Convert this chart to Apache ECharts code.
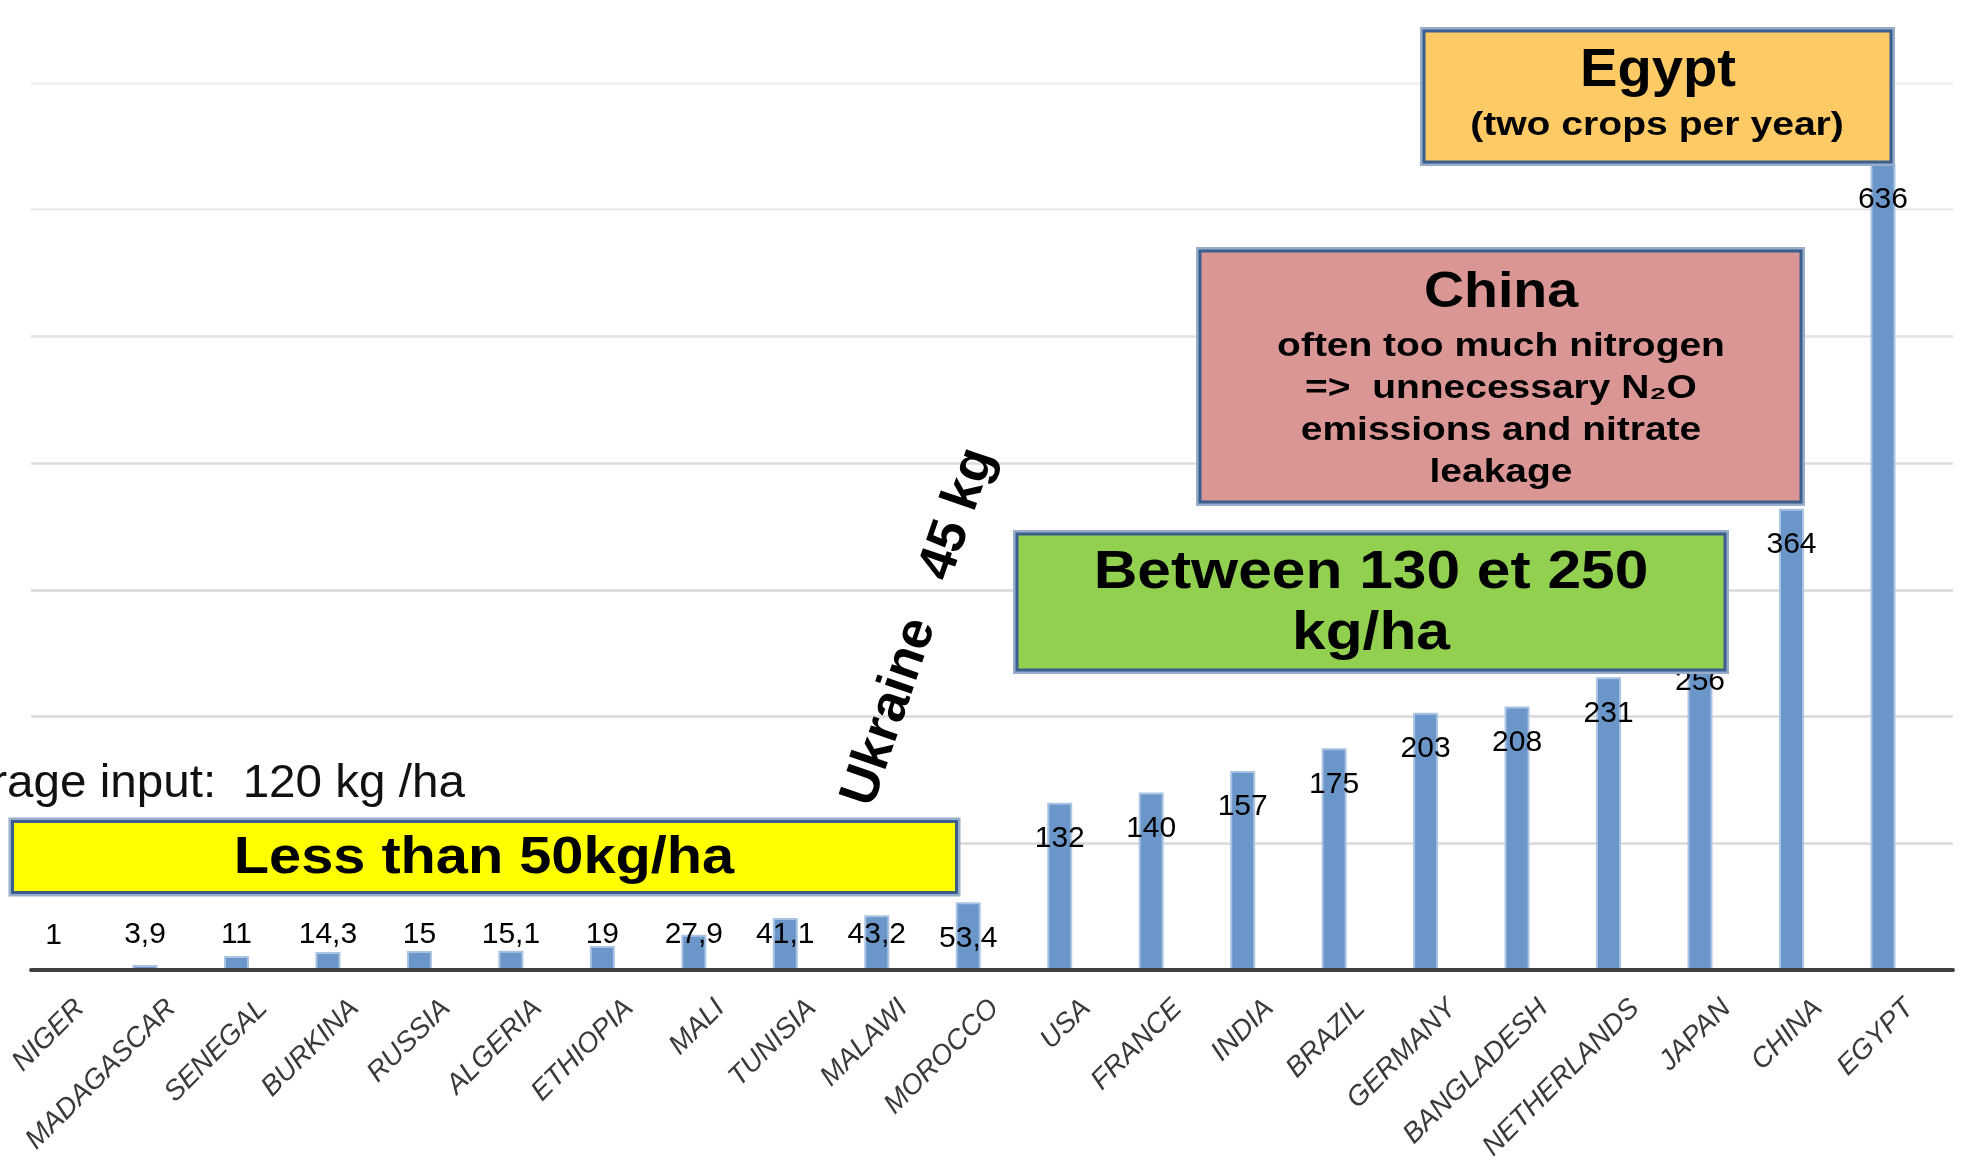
<!DOCTYPE html>
<html>
<head>
<meta charset="utf-8">
<script src="https://cdn.jsdelivr.net/npm/echarts@6/dist/echarts.min.js"></script>
<style>
html,body{margin:0;padding:0;background:#fff;}
#chart{width:1975px;height:1174px;}
</style>
</head>
<body>
<div id="chart"></div>
<script>
// ---- data ----
var categories = ['NIGER','MADAGASCAR','SENEGAL','BURKINA','RUSSIA','ALGERIA','ETHIOPIA','MALI','TUNISIA','MALAWI','MOROCCO','USA','FRANCE','INDIA','BRAZIL','GERMANY','BANGLADESH','NETHERLANDS','JAPAN','CHINA','EGYPT'];
var values = [1, 3.9, 11, 14.3, 15, 15.1, 19, 27.9, 41.1, 43.2, 53.4, 132, 140, 157, 175, 203, 208, 231, 256, 364, 636];
var yTicks = [0, 100, 200, 300, 400, 500, 600, 700];

var averageText = 'Average input:  120 kg /ha';
var lowText = 'Less than 50kg/ha';
var midText = 'Between 130 et 250\nkg/ha';
var chinaTitle = 'China';
var chinaText = 'often too much nitrogen\n=>  unnecessary N\u2082O\nemissions and nitrate\nleakage';
var egyptTitle = 'Egypt';
var egyptText = '(two crops per year)';
var ukraineText = 'Ukraine   45 kg';

// ---- chart ----
var chart = echarts.init(document.getElementById('chart'), null, {renderer: 'canvas'});

var items = values.map(function (v) {
  return {value: v, label: {position: v < 53 ? 'insideBottom' : 'insideTop', distance: v < 53 ? 20 : 21}};
});

var FONT = 'Liberation Sans, Arial, sans-serif';
var BORDER = '#3b5e8d';
var GLOW = '#97adca';
function box(x1, y1, x2, y2, fill) {
  return [
    {type: 'rect', z: 100, shape: {x: x1 - 2.5, y: y1 - 2.5, width: x2 - x1 + 5, height: y2 - y1 + 5},
     style: {fill: 'none', stroke: GLOW, lineWidth: 3}},
    {type: 'rect', z: 101, shape: {x: x1, y: y1, width: x2 - x1, height: y2 - y1},
     style: {fill: fill, stroke: BORDER, lineWidth: 3}}
  ];
}
function txt(text, x, y, size, weight, scaleX, extra) {
  var el = {type: 'text', z: 110, x: x, y: y, scaleX: scaleX || 1,
    style: {text: text, fontSize: size, fontWeight: weight, fontFamily: FONT,
      fill: '#000', align: 'center', verticalAlign: 'middle'}};
  if (extra) { for (var k in extra) { el.style[k] = extra[k]; } }
  return el;
}

var graphics = [];
graphics = graphics.concat(box(12.5, 821.5, 956.5, 892.5, '#ffff00'));
graphics = graphics.concat(box(1017, 534, 1725, 670, '#92d050'));
graphics = graphics.concat(box(1200, 251, 1801, 502, '#da9694'));
graphics = graphics.concat(box(1424, 31, 1891, 162, '#fdca66'));
graphics.push({type: 'text', z: 110, x: 465, y: 784, scaleX: 1.035,
  style: {text: averageText, fontSize: 46, fontFamily: FONT, fill: '#111', align: 'right', verticalAlign: 'middle'}});
graphics.push(txt(lowText, 484, 859, 52, 'bold', 1.11));
graphics.push(txt(midText, 1371, 603.5, 54, 'bold', 1.12, {lineHeight: 61}));
graphics.push(txt(chinaTitle, 1501, 293, 50, 'bold', 1.11));
graphics.push(txt(chinaText, 1501, 410, 33, 'bold', 1.18, {lineHeight: 42}));
graphics.push(txt(egyptTitle, 1658, 71, 53, 'bold', 1.06));
graphics.push(txt(egyptText, 1657, 126, 34, 'bold', 1.15));
graphics.push({type: 'text', z: 110, x: 919, y: 627, rotation: 71 * Math.PI / 180,
  style: {text: ukraineText, fontSize: 53, fontWeight: 'bold', fontFamily: FONT, fill: '#000', align: 'center', verticalAlign: 'middle'}});

var gridBase = {top: 83, bottom: 204, containLabel: false, outerBoundsMode: 'none'};
function g(left, right) { return Object.assign({left: left, right: right}, gridBase); }
var hiddenY = function (gi) {
  return {type: 'value', gridIndex: gi, min: yTicks[0], max: yTicks[yTicks.length - 1], interval: 100,
    axisLabel: {show: false}, axisLine: {show: false}, axisTick: {show: false}, splitLine: {show: false}};
};

var option = {
  animation: false,
  backgroundColor: '#ffffff',
  grid: [g(7.8, 46.3), g(31, 22), g(34.3, 19.8)],
  xAxis: [
    {type: 'category', gridIndex: 0, data: categories,
     axisLine: {show: false}, axisTick: {show: false}, axisLabel: {show: false}},
    {type: 'value', gridIndex: 1, min: 0, max: 1, z: 5,
     axisLine: {show: true, onZero: false, lineStyle: {color: '#404040', width: 4}},
     axisTick: {show: false}, axisLabel: {show: false}, splitLine: {show: false}},
    {type: 'category', gridIndex: 2, data: categories,
     axisLine: {show: false}, axisTick: {show: false},
     axisLabel: {interval: 0, rotate: 45, margin: 34, hideOverlap: false,
       fontFamily: FONT, fontStyle: 'italic', fontSize: 28, color: '#3a3a3a'}}
  ],
  yAxis: [
    hiddenY(0),
    {type: 'value', gridIndex: 1, min: yTicks[0], max: yTicks[yTicks.length - 1], interval: 100,
     axisLabel: {show: false}, axisLine: {show: false}, axisTick: {show: false},
     splitLine: {show: true, lineStyle: {width: 2.5,
       color: ['#d9d9d9', '#d9d9d9', '#d9d9d9', '#d9d9d9', '#dcdcdc', '#e2e2e2', '#ebebeb', '#efefef']}}},
    hiddenY(2)
  ],
  series: [{
    type: 'bar', xAxisIndex: 0, yAxisIndex: 0, data: items, barWidth: 25,
    itemStyle: {color: '#6a96c9', borderColor: '#a9c3e3', borderWidth: 2},
    label: {show: true, fontFamily: FONT, fontSize: 30, color: '#000',
      formatter: function (p) { return String(p.value).replace('.', ','); }}
  }],
  graphic: graphics
};
chart.setOption(option);
</script>
</body>
</html>
